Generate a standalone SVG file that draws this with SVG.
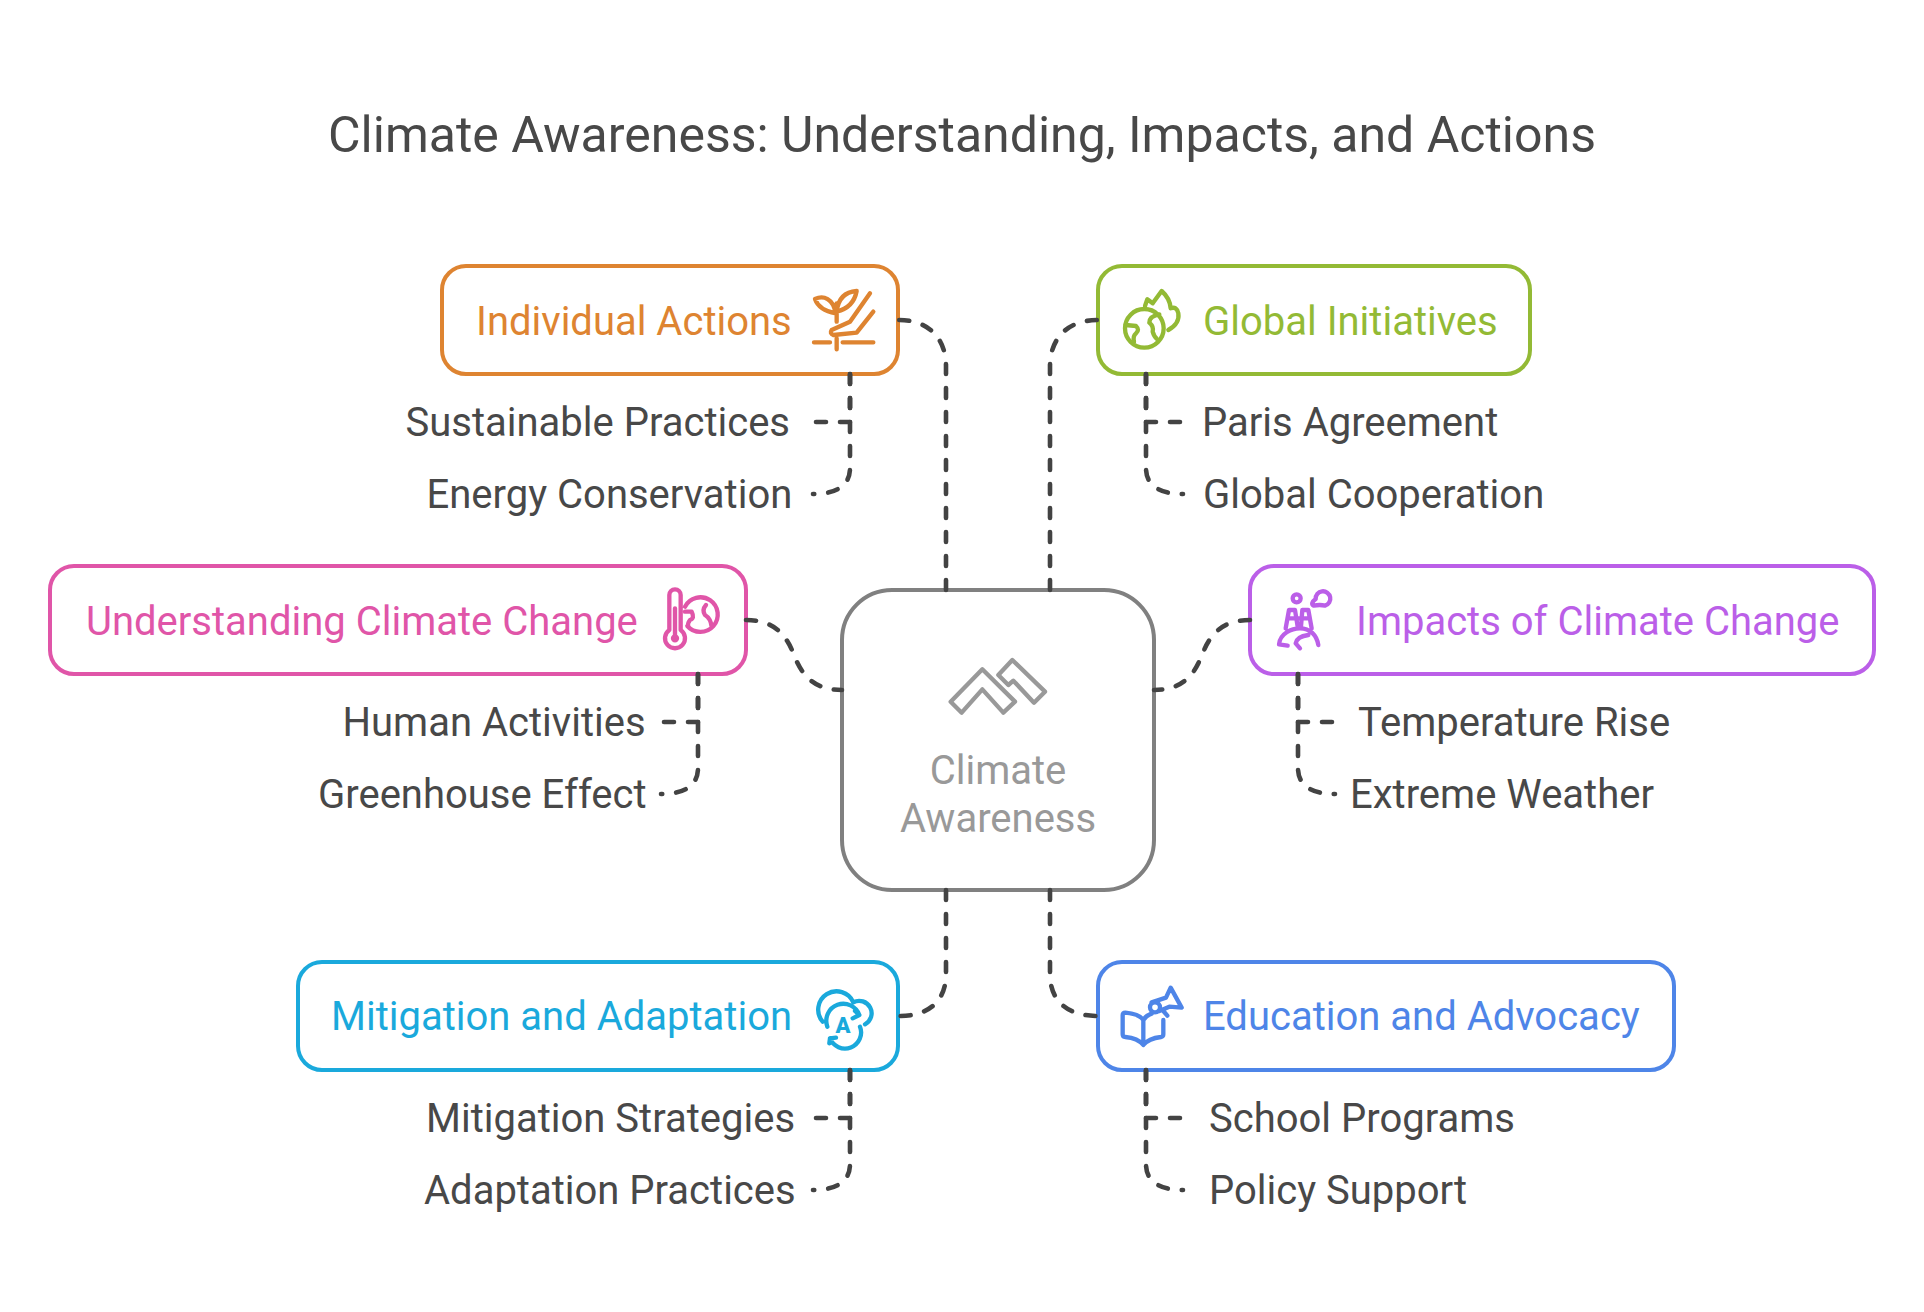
<svg xmlns="http://www.w3.org/2000/svg" width="1924" height="1312" viewBox="0 0 1924 1312">
<style>
text{font-family:Roboto,"Liberation Sans",sans-serif}
.title{font-size:50px;fill:#484848;text-anchor:middle}
.head{font-size:40px}
.sub{font-size:40px;fill:#484848}
.box{fill:#fff;stroke-width:4}
.ctr{font-size:40px;fill:#999;text-anchor:middle}
.ic{fill:none;stroke-width:13;stroke-linecap:round;stroke-linejoin:round}
#connectors path{fill:none;stroke:#434343;stroke-width:4.6;stroke-dasharray:10 14;stroke-linecap:round}
.or{stroke:#DE8431}.gr{stroke:#93BA35}.pk{stroke:#E055A8}.pu{stroke:#BB5FE8}.cy{stroke:#1AA9DC}.bl{stroke:#4E85E8}
.tor{fill:#DE8431}.tgr{fill:#93BA35}.tpk{fill:#E055A8}.tpu{fill:#BB5FE8}.tcy{fill:#1AA9DC}.tbl{fill:#4E85E8}
</style>
<rect width="1924" height="1312" fill="#fff"/>
<text class="title" x="962" y="152">Climate Awareness: Understanding, Impacts, and Actions</text>
<g id="center">
<rect x="842" y="590" width="312" height="300" rx="50" fill="none" stroke="#808080" stroke-width="4"/>
<path transform="translate(930 650) scale(.3333)" d="M62 155 L157 58 L255 155 L220 188 L157 118 L95 188 Z M205 75 L247 30 L345 125 L312 158 L250 92 L235 105 Z" fill="none" stroke="#999" stroke-width="13" stroke-linejoin="round"/>
<text class="ctr" x="998" y="784">Climate</text>
<text class="ctr" x="998" y="832">Awareness</text>
</g>
<g id="individual-actions">
<rect class="box or" x="442" y="266" width="456" height="108" rx="24"/>
<text class="head tor" x="476" y="334.7">Individual Actions</text>
<g class="ic or" transform="translate(790 280) scale(.3333)">
<path d="M75 57 C100 45 130 55 137 100 C110 95 85 85 75 57 Z M200 33 C170 35 145 50 140 95 C180 85 195 60 200 33 Z M140 70 V125 M240 40 L180 125 L125 150 Q118 160 130 165 L200 158 L250 95 M72 187 H120 M158 187 H250 M140 175 V208"/>
</g>
</g>
<g id="global-initiatives">
<rect class="box gr" x="1098" y="266" width="432" height="108" rx="24"/>
<text class="head tgr" x="1203" y="334.7">Global Initiatives</text>
<g class="ic gr" transform="translate(1110 280) scale(.3333)">
<circle cx="103" cy="145" r="58"/>
<path d="M47 135 L78 138 Q90 150 78 160 Q68 168 72 185 M148 103 Q118 108 118 128 Q132 140 128 155 Q132 170 142 178 M105 78 L112 58 L128 70 L155 33 Q180 55 182 85 Q200 78 205 100 Q210 130 175 150"/>
</g>
</g>
<g id="understanding">
<rect class="box pk" x="50" y="566" width="696" height="108" rx="24"/>
<text class="head tpk" x="86" y="634.7">Understanding Climate Change</text>
<g class="ic pk" transform="translate(650 575) scale(.3333)">
<path d="M58 165 V60 A17 17 0 0 1 92 60 V165 A30 30 0 1 1 58 165 Z M75 100 V190 M105 95 A52 52 0 1 1 112 153 M105 110 H125 Q135 130 120 135 Q112 145 115 155 M168 90 Q155 105 165 120 Q182 130 185 155"/>
<circle cx="75" cy="190" r="6"/>
</g>
</g>
<g id="impacts">
<rect class="box pu" x="1250" y="566" width="624" height="108" rx="24"/>
<text class="head tpu" x="1356" y="634.7">Impacts of Climate Change</text>
<g class="ic pu" transform="translate(1265 575) scale(.3333)">
<circle cx="95" cy="70" r="12"/>
<path d="M146 92 Q135 85 152 72 A22 22 0 1 1 180 92 Q165 88 146 92 Z M62 160 L72 105 H90 L98 155 M108 155 L112 105 H130 L140 160 M68 130 H134 M42 208 C45 175 80 160 105 160 C135 160 155 180 160 210 M42 208 L68 212 M130 180 Q95 185 92 205 L105 220"/>
</g>
</g>
<g id="mitigation">
<rect class="box cy" x="298" y="962" width="600" height="108" rx="24"/>
<text class="head tcy" x="331" y="1030.4">Mitigation and Adaptation</text>
<g class="ic cy" transform="translate(800 975) scale(.3333)">
<path d="M68 140 A55 55 0 1 1 160 82 A33 33 0 0 1 195 148 M82 155 A48 48 0 0 1 178 120 M165 108 L178 120 L158 130 M180 155 A48 48 0 0 1 90 190 M88 205 L90 190 L108 188"/>
</g>
<text x="843" y="1033" font-size="22" font-weight="900" fill="#1AA9DC" text-anchor="middle">A</text>
</g>
<g id="education">
<rect class="box bl" x="1098" y="962" width="576" height="108" rx="24"/>
<text class="head tbl" x="1203" y="1030.4">Education and Advocacy</text>
<g class="ic bl" transform="translate(1110 975) scale(.3333)">
<path d="M100 135 C90 120 70 115 46 113 Q38 113 38 121 V178 Q38 186 46 186 C70 188 88 195 100 210 C112 195 135 188 153 186 Q160 185 160 178 V135 M100 135 V205 M100 135 Q108 122 125 116 M125 82 L168 68 L182 38 L215 98 L178 95 L148 108 M160 108 L172 122"/>
<circle cx="135" cy="97" r="15"/>
</g>
</g>
<g id="labels">
<text class="sub" x="405.5" y="436">Sustainable Practices</text>
<text class="sub" x="426.5" y="508">Energy Conservation</text>
<text class="sub" x="1202" y="436">Paris Agreement</text>
<text class="sub" x="1203" y="508">Global Cooperation</text>
<text class="sub" x="342.5" y="736">Human Activities</text>
<text class="sub" x="318" y="808">Greenhouse Effect</text>
<text class="sub" x="1358" y="736">Temperature Rise</text>
<text class="sub" x="1350" y="808">Extreme Weather</text>
<text class="sub" x="426" y="1132">Mitigation Strategies</text>
<text class="sub" x="424" y="1204">Adaptation Practices</text>
<text class="sub" x="1209" y="1132">School Programs</text>
<text class="sub" x="1209" y="1204">Policy Support</text>
</g>
<g id="connectors">
<path d="M946 590 V366 C946 340 930 320 899 320"/>
<path d="M1050 590 V366 C1050 340 1066 320 1098 320"/>
<path d="M746 620 C776 620 787 637 794 655 C801 673 812 690 842 690"/>
<path d="M1250 620 C1220 620 1209 637 1202 655 C1195 673 1184 690 1154 690"/>
<path d="M946 890 V974 C946 1000 930 1016 899 1016"/>
<path d="M1050 890 V974 C1050 1000 1066 1016 1098 1016"/>
<path d="M850 374 V422 H813"/>
<path d="M850 374 V468 C850 486 836 494 813 494"/>
<path d="M1146 374 V422 H1183"/>
<path d="M1146 374 V468 C1146 486 1160 494 1183 494"/>
<path d="M698 674 V722 H661"/>
<path d="M698 674 V768 C698 786 684 794 661 794"/>
<path d="M1298 674 V722 H1335"/>
<path d="M1298 674 V768 C1298 786 1312 794 1335 794"/>
<path d="M850 1070 V1118 H813"/>
<path d="M850 1070 V1164 C850 1182 836 1190 813 1190"/>
<path d="M1146 1070 V1118 H1183"/>
<path d="M1146 1070 V1164 C1146 1182 1160 1190 1183 1190"/>
</g>
</svg>
